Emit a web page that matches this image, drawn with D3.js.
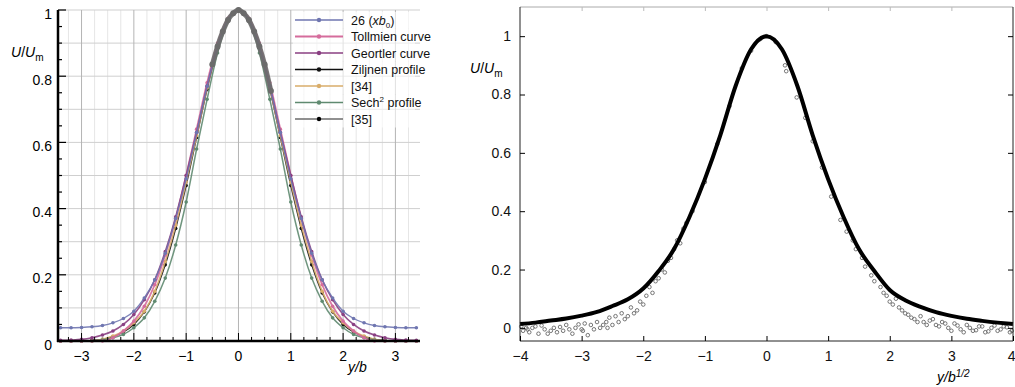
<!DOCTYPE html>
<html>
<head>
<meta charset="utf-8">
<script src="https://cdn.jsdelivr.net/npm/d3@7"></script>
<style>
  body { margin: 0; background: #fff; }
  text { font-family: "Liberation Sans", Arial, sans-serif; }
</style>
</head>
<body>
<svg width="1015" height="387"></svg>
<script>
// ---- left panel data: velocity profiles U/Um against y/b ----
let ybGrid = [-3.4, -3.2, -3.0, -2.8, -2.6, -2.4, -2.2, -2.0, -1.8, -1.6, -1.4, -1.2, -1.0, -0.8, -0.6, -0.4, -0.2,
    0, 0.2, 0.4, 0.6, 0.8, 1.0, 1.2, 1.4, 1.6, 1.8, 2.0, 2.2, 2.4, 2.6, 2.8, 3.0, 3.2, 3.4];

let run26 = [0.04, 0.04, 0.041, 0.043, 0.047, 0.055, 0.068, 0.09, 0.13, 0.185, 0.265, 0.37, 0.49, 0.63, 0.77, 0.89, 0.97,
    1.0, 0.97, 0.89, 0.77, 0.63, 0.49, 0.37, 0.265, 0.185, 0.13, 0.09, 0.068, 0.055, 0.047, 0.043, 0.041, 0.04, 0.04];
let tollmien = [0, 0, 0, 0, 0, 0.01, 0.03, 0.06, 0.105, 0.17, 0.26, 0.37, 0.5, 0.64, 0.78, 0.9, 0.975,
    1.0, 0.975, 0.9, 0.78, 0.64, 0.5, 0.37, 0.26, 0.17, 0.105, 0.06, 0.03, 0.01, 0, 0, 0, 0, 0];
let geortler = [0.002, 0.003, 0.005, 0.01, 0.018, 0.03, 0.05, 0.08, 0.125, 0.185, 0.27, 0.375, 0.5, 0.63, 0.77, 0.89, 0.97,
    1.0, 0.97, 0.89, 0.77, 0.63, 0.5, 0.375, 0.27, 0.185, 0.125, 0.08, 0.05, 0.03, 0.018, 0.01, 0.005, 0.003, 0.002];
let zijlnen = [0, 0, 0, 0.002, 0.005, 0.013, 0.027, 0.05, 0.088, 0.145, 0.23, 0.34, 0.47, 0.615, 0.76, 0.885, 0.97,
    1.0, 0.97, 0.885, 0.76, 0.615, 0.47, 0.34, 0.23, 0.145, 0.088, 0.05, 0.027, 0.013, 0.005, 0.002, 0, 0, 0];
let ref34 = [0, 0, 0, 0, 0.005, 0.015, 0.03, 0.055, 0.09, 0.15, 0.24, 0.35, 0.48, 0.62, 0.765, 0.89, 0.97,
    1.0, 0.97, 0.89, 0.765, 0.62, 0.48, 0.35, 0.24, 0.15, 0.09, 0.055, 0.03, 0.015, 0.005, 0, 0, 0, 0];
let sech2 = [0, 0, 0, 0, 0.003, 0.01, 0.02, 0.04, 0.07, 0.12, 0.19, 0.29, 0.42, 0.58, 0.73, 0.87, 0.965,
    1.0, 0.965, 0.87, 0.73, 0.58, 0.42, 0.29, 0.19, 0.12, 0.07, 0.04, 0.02, 0.01, 0.003, 0, 0, 0, 0];
let ref35X = [-0.5, -0.4, -0.3, -0.2, -0.1, 0, 0.1, 0.2, 0.3, 0.4, 0.5, 0.62];
let ref35 = [0.835, 0.89, 0.935, 0.97, 0.99, 1.0, 0.99, 0.97, 0.935, 0.89, 0.835, 0.755];

let legendNames = ["26 (xb0)", "Tollmien curve", "Geortler curve", "Ziljnen profile", "[34]", "Sech2 profile", "[35]"];

// ---- right panel data: U/Um against y/b^(1/2) ----
let fitX = [-4, -3.75, -3.5, -3.25, -3, -2.75, -2.5, -2.25, -2, -1.75, -1.5, -1.25, -1, -0.75, -0.5, -0.25, 0,
    0.25, 0.5, 0.75, 1, 1.25, 1.5, 1.75, 2, 2.25, 2.5, 2.75, 3, 3.25, 3.5, 3.75, 4];
let fitU = [0.013, 0.018, 0.025, 0.032, 0.042, 0.055, 0.075, 0.098, 0.135, 0.195, 0.27, 0.38, 0.51, 0.66, 0.83, 0.955, 1.0,
    0.955, 0.83, 0.66, 0.51, 0.38, 0.27, 0.195, 0.13, 0.095, 0.072, 0.054, 0.041, 0.031, 0.024, 0.018, 0.013];

let measX = [-3.98, -3.95, -3.9, -3.88, -3.85, -3.8, -3.75, -3.7, -3.65, -3.6, -3.55, -3.5, -3.45, -3.4, -3.35, -3.3,
    -3.25, -3.2, -3.15, -3.1, -3.05, -3.0, -2.98, -2.95, -2.9, -2.85, -2.8, -2.75, -2.7, -2.65, -2.6, -2.58, -2.55,
    -2.5, -2.45, -2.4, -2.35, -2.3, -2.25, -2.2, -2.15, -2.1, -2.05, -2.0, -1.95, -1.9, -1.85, -1.8, -1.75, -1.7,
    -1.65, -1.6, -1.55, -1.5, -1.45, -1.4, -1.35, -1.3, -1.2, -1.0, -0.8, -0.6, -0.4, -0.25, -0.1, 0.0, 0.15,
    0.3, 0.32, 0.49, 0.63, 0.75, 0.9, 1.05, 1.2, 1.3, 1.4, 1.45, 1.55, 1.6, 1.7, 1.75, 1.85, 1.9, 1.95, 2.0,
    2.05, 2.1, 2.15, 2.2, 2.25, 2.3, 2.35, 2.4, 2.45, 2.5, 2.55, 2.6, 2.65, 2.7, 2.75, 2.8, 2.85, 2.9, 2.95,
    3.0, 3.05, 3.1, 3.15, 3.2, 3.25, 3.3, 3.35, 3.4, 3.45, 3.5, 3.55, 3.6, 3.65, 3.7, 3.75, 3.8, 3.85, 3.9, 3.95, 3.98];
let measU = [0.005, -0.01, 0.0, -0.005, -0.015, 0.0, 0.005, -0.02, 0.008, -0.005, -0.02, -0.01, 0.0, -0.015, 0.003, -0.01,
    0.01, -0.005, -0.02, 0.0, 0.012, -0.005, -0.01, 0.015, -0.025, 0.01, -0.005, 0.02, 0.0, 0.01, 0.02, 0.0, 0.035,
    0.01, 0.04, 0.02, 0.05, 0.03, 0.04, 0.07, 0.05, 0.06, 0.09, 0.08, 0.11, 0.14, 0.12, 0.16, 0.17, 0.2,
    0.19, 0.23, 0.24, 0.27, 0.3, 0.29, 0.34, 0.36, 0.4, 0.5, 0.63, 0.76, 0.89, 0.95, 0.99, 1.0, 0.98,
    0.9, 0.88, 0.79, 0.72, 0.64, 0.55, 0.45, 0.37, 0.33, 0.3, 0.27, 0.24, 0.21, 0.18, 0.16, 0.14, 0.12, 0.11, 0.09,
    0.08, 0.1, 0.07, 0.06, 0.05, 0.045, 0.035, 0.03, 0.02, 0.04, 0.02, 0.01, 0.025, 0.03, 0.01, 0.005, 0.02, 0.015, 0.0,
    -0.01, 0.015, 0.008, -0.005, -0.015, 0.01, 0.0, -0.01, -0.008, 0.005, 0.005, -0.015, -0.012, 0.0, 0.008, -0.01, -0.005, 0.005, 0.002, -0.015, -0.01];

let yTicks = [0, 0.2, 0.4, 0.6, 0.8, 1];

let svg = d3.select("svg");

// ================= left panel =================
let xL = d3.scaleLinear().domain([-3.45, 3.47]).range([58, 420]);
let yL = d3.scaleLinear().domain([0, 1]).range([341, 10]);
let left = svg.append("g");

// grid
left.append("g").selectAll("line")
    .data(d3.range(-3.25, 3.5, 0.25).filter(d => Math.abs(d - Math.round(d)) > 0.01))
    .enter().append("line")
    .attr("x1", d => xL(d)).attr("x2", d => xL(d))
    .attr("y1", yL(1)).attr("y2", yL(0))
    .style("stroke", "#e6e6e6");
left.append("g").selectAll("line")
    .data(d3.range(0.1, 1.01, 0.1))
    .enter().append("line")
    .attr("x1", xL(-3.45)).attr("x2", xL(3.47))
    .attr("y1", d => yL(d)).attr("y2", d => yL(d))
    .style("stroke", "#cfcfcf");
left.append("g").selectAll("line")
    .data(d3.range(-3, 4, 1))
    .enter().append("line")
    .attr("x1", d => xL(d)).attr("x2", d => xL(d))
    .attr("y1", yL(1)).attr("y2", yL(0))
    .style("stroke", "#b4b4b4");

// profiles
let series = [
    { name: legendNames[3], x: ybGrid, u: zijlnen, color: "#111", w: 1.3 },
    { name: legendNames[4], x: ybGrid, u: ref34, color: "#d9ad6a", w: 1.6 },
    { name: legendNames[5], x: ybGrid, u: sech2, color: "#5f8a70", w: 1.5 },
    { name: legendNames[1], x: ybGrid, u: tollmien, color: "#d56c9c", w: 1.8 },
    { name: legendNames[2], x: ybGrid, u: geortler, color: "#8a3f82", w: 1.6 },
    { name: legendNames[0], x: ybGrid, u: run26, color: "#6f76b0", w: 1.4 },
    { name: legendNames[6], x: ref35X, u: ref35, color: "#6b6b6b", w: 5 }
];

let lineL = d3.line().curve(d3.curveMonotoneX)
    .x(d => xL(d[0])).y(d => yL(d[1]));

series.forEach(function (s) {
    let pts = s.x.map((v, i) => [v, s.u[i]]);
    left.append("path")
        .attr("d", lineL(pts))
        .style("fill", "none")
        .style("stroke", s.color)
        .style("stroke-width", s.w)
        .style("opacity", 0.9);
    left.append("g").selectAll("circle")
        .data(pts)
        .enter().append("circle")
        .attr("cx", d => xL(d[0]))
        .attr("cy", d => yL(d[1]))
        .attr("r", s.w > 3 ? 3 : 1.8)
        .style("fill", s.color);
});

// axes
left.append("line").attr("x1", 58).attr("x2", 58).attr("y1", yL(1)).attr("y2", 342)
    .style("stroke", "#000").style("stroke-width", 2.5);
left.append("line").attr("x1", 57).attr("x2", 420).attr("y1", 341).attr("y2", 341)
    .style("stroke", "#000").style("stroke-width", 2.5);
left.append("g").selectAll("line")
    .data(d3.range(0, 1.001, 0.05))
    .enter().append("line")
    .attr("x1", 58).attr("x2", d => Math.abs(d * 5 - Math.round(d * 5)) < 0.01 ? 66 : 62)
    .attr("y1", d => yL(d)).attr("y2", d => yL(d))
    .style("stroke", "#000").style("stroke-width", 1.2);
left.append("g").selectAll("line")
    .data(d3.range(-3.25, 3.5, 0.25))
    .enter().append("line")
    .attr("x1", d => xL(d)).attr("x2", d => xL(d))
    .attr("y1", 341).attr("y2", d => Math.abs(d - Math.round(d)) < 0.01 ? 333 : 337)
    .style("stroke", "#000").style("stroke-width", 1);

left.append("g").selectAll("text")
    .data(yTicks)
    .enter().append("text")
    .attr("x", 52).attr("y", d => yL(d)).attr("dy", "0.62em")
    .attr("text-anchor", "end")
    .style("font-size", "14px")
    .text(d => d === 0 || d === 1 ? d : d.toFixed(1));
left.append("g").selectAll("text")
    .data(d3.range(-3, 4, 1))
    .enter().append("text")
    .attr("x", d => xL(d)).attr("y", 361)
    .attr("text-anchor", "middle")
    .style("font-size", "14px")
    .text(d => d < 0 ? "\u2212" + (-d) : d);

let ylabL = left.append("text").attr("x", 11).attr("y", 57).style("font-size", "14px");
ylabL.append("tspan").style("font-style", "italic").text("U");
ylabL.append("tspan").text("/");
ylabL.append("tspan").style("font-style", "italic").text("U");
ylabL.append("tspan").attr("dy", 4).style("font-size", "10px").text("m");

let xlabL = left.append("text").attr("x", 348).attr("y", 372).style("font-size", "14px").style("font-style", "italic");
xlabL.text("y/b");

// legend
let legOrder = [5, 3, 4, 0, 1, 2, 6];
let leg = left.append("g").attr("transform", "translate(295,20)");
legOrder.forEach(function (k, i) {
    let s = series[k];
    let gy = i * 16.5;
    leg.append("rect").attr("x", -2).attr("y", gy - 8).attr("width", 122).attr("height", 16.5).style("fill", "#fff").style("opacity", 0.6);
    leg.append("line").attr("x1", 0).attr("x2", 48).attr("y1", gy).attr("y2", gy)
        .style("stroke", s.color).style("stroke-width", s.w > 3 ? 1.4 : s.w);
    leg.append("circle").attr("cx", 24).attr("cy", gy).attr("r", 2.2)
        .style("fill", k === 6 ? "#000" : s.color);
    let t = leg.append("text").attr("x", 56).attr("y", gy + 4.5).style("font-size", "12.5px").style("fill", "#111");
    if (k === 5) {
        t.append("tspan").text("26 (");
        t.append("tspan").style("font-style", "italic").text("xb");
        t.append("tspan").attr("dy", 3).style("font-size", "8px").text("0");
        t.append("tspan").attr("dy", -3).text(")");
    } else if (k === 2) {
        t.append("tspan").text("Sech");
        t.append("tspan").attr("dy", -5).style("font-size", "8px").text("2");
        t.append("tspan").attr("dy", 5).text(" profile");
    } else {
        t.text(s.name);
    }
});

// ================= right panel =================
let xR = d3.scaleLinear().domain([-4, 4]).range([520, 1013]);
let yR = d3.scaleLinear().domain([-0.045, 1.1]).range([341, 7]);
let right = svg.append("g");

right.append("g").selectAll("circle")
    .data(measX.map((v, i) => [v, measU[i]]))
    .enter().append("circle")
    .attr("cx", d => xR(d[0]))
    .attr("cy", d => yR(d[1]))
    .attr("r", 1.8)
    .style("fill", "none")
    .style("stroke", "#666")
    .style("stroke-width", 0.9);

let lineR = d3.line().curve(d3.curveMonotoneX)
    .x(d => xR(d[0])).y(d => yR(d[1]));
right.append("path")
    .attr("d", lineR(fitX.map((v, i) => [v, fitU[i]])))
    .style("fill", "none")
    .style("stroke", "#000")
    .style("stroke-width", 4);

// frame
right.append("line").attr("x1", 520).attr("x2", 1013).attr("y1", 7).attr("y2", 7).style("stroke", "#aaa");
right.append("line").attr("x1", 520).attr("x2", 1013).attr("y1", 341).attr("y2", 341).style("stroke", "#222");
right.append("line").attr("x1", 520).attr("x2", 520).attr("y1", 7).attr("y2", 341).style("stroke", "#222");
right.append("line").attr("x1", 1013).attr("x2", 1013).attr("y1", 7).attr("y2", 341).style("stroke", "#222");

let axB = d3.axisBottom(xR).tickValues(d3.range(-4, 5, 1)).tickSizeInner(-5).tickSizeOuter(0)
    .tickFormat(d => d < 0 ? "\u2212" + (-d) : d);
let gB = right.append("g").attr("transform", "translate(0,341)").call(axB);
gB.select(".domain").remove();
gB.selectAll("text").attr("y", 10).style("font-size", "14px").style("font-family", "Liberation Sans, Arial, sans-serif").style("fill", "#111");
gB.selectAll("text").filter(d => d === 4).attr("text-anchor", "end").attr("x", 2);

let axLft = d3.axisLeft(yR).tickValues(yTicks).tickSizeInner(-5).tickSizeOuter(0)
    .tickFormat(d => d === 0 || d === 1 ? d : d.toFixed(1));
let gLf = right.append("g").attr("transform", "translate(520,0)").call(axLft);
gLf.select(".domain").remove();
gLf.selectAll("text").attr("x", -9).style("font-size", "14px").style("font-family", "Liberation Sans, Arial, sans-serif").style("fill", "#111");

let axRt = d3.axisRight(yR).tickValues(yTicks).tickSizeInner(-5).tickSizeOuter(0).tickFormat("");
let gRt = right.append("g").attr("transform", "translate(1013,0)").call(axRt);
gRt.select(".domain").remove();

let axTp = d3.axisTop(xR).tickValues(d3.range(-3, 4, 1)).tickSizeInner(-4).tickSizeOuter(0).tickFormat("");
let gTp = right.append("g").attr("transform", "translate(0,7)").call(axTp);
gTp.select(".domain").remove();
gTp.selectAll("line").style("stroke", "#bbb");

let ylabR = right.append("text").attr("x", 470).attr("y", 73).style("font-size", "14px");
ylabR.append("tspan").style("font-style", "italic").text("U");
ylabR.append("tspan").text("/");
ylabR.append("tspan").style("font-style", "italic").text("U");
ylabR.append("tspan").attr("dy", 4).style("font-size", "10px").text("m");

let xlabR = right.append("text").attr("x", 937).attr("y", 382).style("font-size", "14px");
xlabR.append("tspan").style("font-style", "italic").text("y/b");
xlabR.append("tspan").attr("dy", -5).style("font-size", "10px").style("font-style", "italic").text("1/2");
</script>
</body>
</html>
